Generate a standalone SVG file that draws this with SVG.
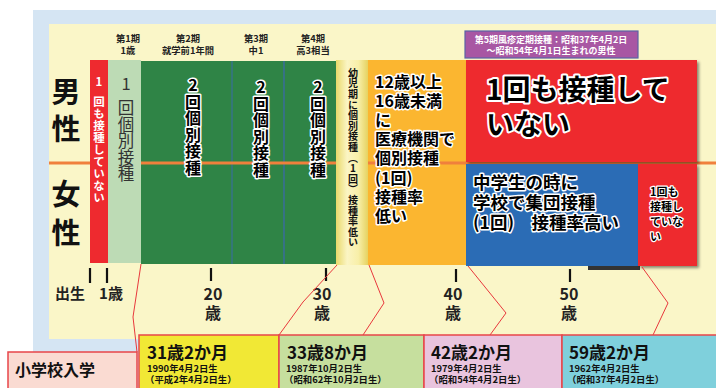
<svg xmlns="http://www.w3.org/2000/svg" width="716" height="388" viewBox="0 0 716 388">
<style>
text{font-family:"Noto Sans CJK JP","Noto Sans",sans-serif;font-weight:bold;}
.vt{writing-mode:vertical-rl;text-orientation:upright;}
.ol{stroke:#fff;stroke-width:3;paint-order:stroke;stroke-linejoin:round;fill:#000;}
.ax{font-size:16px;fill:#222;text-anchor:middle;}
.per{font-size:9.3px;fill:#222;text-anchor:middle;}
.tick{stroke:#111;stroke-width:2.2;}
.bx{stroke:#e8464a;stroke-width:1.5;}
.age{font-size:17px;fill:#111;}
.dt{font-size:9.4px;fill:#111;}
.conn{fill:none;stroke:#e8383c;stroke-width:1;}
.sx{font-size:29px;fill:#111;text-anchor:middle;}
.or{font-size:16px;}
</style>
<defs>
<linearGradient id="pale" x1="0" x2="1" y1="0" y2="0">
<stop offset="0" stop-color="#e9d96a"/><stop offset="0.35" stop-color="#fbf5c4"/><stop offset="0.7" stop-color="#f8efa8"/><stop offset="1" stop-color="#e5d260"/>
</linearGradient>
<filter id="sh" x="-5%" y="-5%" width="115%" height="115%"><feDropShadow dx="2" dy="2" stdDeviation="1.5" flood-color="#000" flood-opacity="0.45"/></filter>
</defs>
<rect width="716" height="388" fill="#fff"/>
<rect x="33" y="10" width="683" height="378" fill="#d5e5f3"/>
<rect x="49" y="24" width="667" height="315" fill="#faf6c8"/>

<g id="sex-labels">
<text class="sx" x="66" y="103">男</text>
<text class="sx" x="66" y="140">性</text>
<text class="sx" x="66" y="205">女</text>
<text class="sx" x="66" y="244">性</text>
</g>

<g id="period-labels">
<text class="per" x="128" y="42">第1期</text><text class="per" x="128" y="54">1歳</text>
<text class="per" x="188" y="42">第2期</text><text class="per" x="188" y="54">就学前1年間</text>
<text class="per" x="256" y="42">第3期</text><text class="per" x="256" y="54">中1</text>
<text class="per" x="313" y="42">第4期</text><text class="per" x="313" y="54">高3相当</text>
</g>

<g id="period5">
<rect x="465" y="31" width="173" height="27" fill="#a857a3" stroke="#5a62a6" stroke-width="1.2"/>
<text x="551" y="43" text-anchor="middle" fill="#fff" style="font-size:9px">第5期風疹定期接種：昭和37年4月2日</text>
<text x="551" y="54" text-anchor="middle" fill="#fff" style="font-size:9px">～昭和54年4月1日生まれの男性</text>
</g>

<g id="green-2">
<rect x="141" y="61" width="195" height="203" fill="#2f8446"/>
<line x1="232" y1="61" x2="232" y2="264" stroke="#3b6aa8" stroke-width="1"/>
<line x1="284" y1="61" x2="284" y2="264" stroke="#3b6aa8" stroke-width="1.3"/>
</g>

<g id="orange-box">
<rect x="368" y="60" width="98" height="205" fill="#fbb630"/>
</g>

<g id="sep-line">
<line x1="49" y1="163" x2="716" y2="163" stroke="#f0803c" stroke-width="3"/>
</g>

<g id="red-none-infant">
<rect x="90" y="60" width="18" height="203" fill="#ee2a2f"/>
<text class="vt" x="99" y="76" fill="#fff" style="font-size:11.5px;letter-spacing:0.5px"><tspan>1</tspan><tspan y="96">回も接種していない</tspan></text>
</g>

<g id="lightgreen-1">
<rect x="108" y="60" width="33" height="203" fill="#bddbb5"/>
<text class="vt" x="126" y="75" fill="#333" style="font-size:16.5px;font-weight:normal"><tspan>1</tspan><tspan y="99">回個別接種</tspan></text>
</g>

<g id="green-text">
<text class="vt ol" x="193" y="77" style="font-size:16px;letter-spacing:0.5px">2回個別接種</text>
<text class="vt ol" x="261" y="79" style="font-size:16px;letter-spacing:0.5px">2回個別接種</text>
<text class="vt ol" x="318" y="79" style="font-size:16px;letter-spacing:0.5px">2回個別接種</text>
</g>

<g id="pale-col">
<rect x="336" y="60" width="32" height="205" fill="url(#pale)"/>
<text class="vt" x="353" y="68" fill="#111" style="font-size:10px;letter-spacing:0.6px">幼児期に個別接種（1回）接種率低い</text>
</g>

<g id="orange-text">
<text class="ol or" x="375" y="88">12歳以上</text>
<text class="ol or" x="375" y="107">16歳未満</text>
<text class="ol or" x="375" y="126">に</text>
<text class="ol or" x="375" y="145">医療機関で</text>
<text class="ol or" x="375" y="164">個別接種</text>
<text class="ol or" x="375" y="184">(1回)</text>
<text class="ol or" x="375" y="203">接種率</text>
<text class="ol or" x="375" y="222">低い</text>
</g>

<g id="red-none-male">
<rect x="466" y="60" width="231" height="102" fill="#ee2a2f" filter="url(#sh)"/>
<text class="ol" x="486" y="100" style="font-size:28px;stroke-width:4">1回も接種して</text>
<text class="ol" x="486" y="135" style="font-size:28px;stroke-width:4">いない</text>
</g>

<g id="blue-school">
<rect x="588" y="166" width="52" height="104" fill="#333"/>
<rect x="466" y="164" width="172" height="102" fill="#2b6cb5"/>
<text class="ol" x="473" y="189" style="font-size:17.5px">中学生の時に</text>
<text class="ol" x="473" y="209" style="font-size:17.5px">学校で集団接種</text>
<text class="ol" x="473" y="229" style="font-size:17.5px">(1回)　接種率高い</text>
</g>

<g id="red-none-old">
<rect x="638" y="164" width="59" height="102" fill="#ee2a2f" filter="url(#sh)"/>
<text class="ol" x="650" y="196" style="font-size:11px;stroke-width:2.5">1回も</text>
<text class="ol" x="650" y="211" style="font-size:11px;stroke-width:2.5">接種し</text>
<text class="ol" x="650" y="226" style="font-size:11px;stroke-width:2.5">ていな</text>
<text class="ol" x="650" y="241" style="font-size:11px;stroke-width:2.5">い</text>
</g>

<g id="axis">
<line class="tick" x1="90" y1="268" x2="90" y2="283"/>
<line class="tick" x1="107" y1="268" x2="107" y2="283"/>
<line class="tick" x1="211" y1="268" x2="211" y2="281"/>
<line class="tick" x1="326" y1="268" x2="326" y2="281"/>
<line class="tick" x1="456" y1="269" x2="456" y2="282"/>
<line class="tick" x1="570" y1="269" x2="570" y2="282"/>
<text class="ax" x="70" y="299" style="font-size:15px">出生</text>
<text class="ax" x="111" y="299" style="font-size:15px">1歳</text>
<text class="ax" x="213" y="300">20</text><text class="ax" x="213" y="319">歳</text>
<text class="ax" x="322" y="300">30</text><text class="ax" x="322" y="319">歳</text>
<text class="ax" x="453" y="300">40</text><text class="ax" x="453" y="319">歳</text>
<text class="ax" x="569" y="300">50</text><text class="ax" x="569" y="319">歳</text>
</g>

<g id="connectors">
<polyline class="conn" points="141,264 133,317 137,352"/>
<polyline class="conn" points="337,265 303,302 279,335"/>
<polyline class="conn" points="369,265 384,303 363,335"/>
<polyline class="conn" points="468,266 506,313 490,335"/>
<polyline class="conn" points="642,267 668,303 653,335"/>
</g>

<g id="entry">
<rect x="8" y="352" width="129" height="40" fill="#fadbd2" class="bx"/>
<text x="15" y="376" fill="#111" style="font-size:16px">小学校入学</text>
</g>

<g id="box-31">
<rect x="139" y="335" width="140" height="58" fill="#f1e835" class="bx"/>
<text class="age" x="147" y="359">31歳2か月</text>
<text class="dt" x="147" y="372">1990年4月2日生</text>
<text class="dt" x="145" y="383">（平成2年4月2日生）</text>
</g>

<g id="box-33">
<rect x="279" y="335" width="145" height="58" fill="#c6df9e" class="bx"/>
<text class="age" x="287" y="359">33歳8か月</text>
<text class="dt" x="286" y="372">1987年10月2日生</text>
<text class="dt" x="284" y="383">（昭和62年10月2日生）</text>
</g>

<g id="box-42">
<rect x="424" y="335" width="138" height="58" fill="#e9c4de" class="bx"/>
<text class="age" x="431" y="359">42歳2か月</text>
<text class="dt" x="431" y="372">1979年4月2日生</text>
<text class="dt" x="429" y="383">（昭和54年4月2日生）</text>
</g>

<g id="box-59">
<rect x="562" y="335" width="160" height="58" fill="#7fd0dc" class="bx"/>
<text class="age" x="569" y="359">59歳2か月</text>
<text class="dt" x="569" y="372">1962年4月2日生</text>
<text class="dt" x="567" y="383">（昭和37年4月2日生）</text>
</g>
</svg>
